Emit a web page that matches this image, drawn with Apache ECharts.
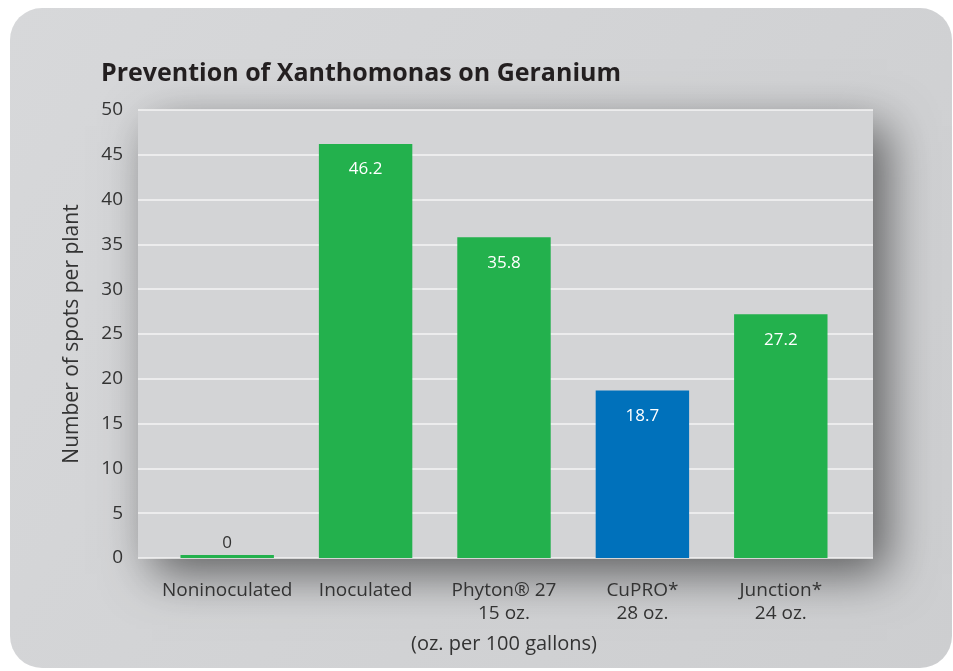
<!DOCTYPE html>
<html><head><meta charset="utf-8">
<script src="https://cdn.jsdelivr.net/npm/echarts@6/dist/echarts.min.js"></script>
<style>html,body{margin:0;padding:0;background:#fff}#c{width:953px;height:671px}</style>
</head><body><div id="c"></div>
<script>
const categories = ['Noninoculated', 'Inoculated', 'Phyton® 27\n15 oz.', 'CuPRO*\n28 oz.', 'Junction*\n24 oz.'];
const values = [0, 46.2, 35.8, 18.7, 27.2];
const barColors = ['#23b14d', '#23b14d', '#23b14d', '#0071bb', '#23b14d'];
const yTicks = [0, 5, 10, 15, 20, 25, 30, 35, 40, 45, 50];

const FONT = '"Open Sans", "Noto Sans", sans-serif';
const chart = echarts.init(document.getElementById('c'), null, {renderer: 'canvas'});
const data = values.map((v, i) => ({
  value: v,
  itemStyle: {color: barColors[i]},
  label: v === 0 ? {position: 'top', color: '#333', distance: 3} : {}
}));
const yMin = yTicks[0], yMax = yTicks[yTicks.length - 1];
chart.setOption({
  animation: false,
  backgroundColor: '#ffffff',
  graphic: [{
    type: 'rect', z: -10, silent: true,
    shape: {x: 10, y: 8, width: 942, height: 660, r: 32},
    style: {fill: new echarts.graphic.LinearGradient(0, 0, 1, 1, [
      {offset: 0, color: '#d7d8da'}, {offset: 1, color: '#cdced0'}])}
  }],
  title: {
    text: 'Prevention of Xanthomonas on Geranium',
    left: 96, top: 56,
    textStyle: {fontFamily: FONT, fontWeight: 'bold', fontSize: 25, color: '#231f20'}
  },
  grid: [{
    left: 138, right: 80, top: 110, bottom: 113,
    show: true, backgroundColor: '#d3d4d6', borderWidth: 0,
    shadowColor: 'rgba(0,0,0,0.55)', shadowBlur: 45, shadowOffsetX: 14, shadowOffsetY: 16
  }, {
    left: 158, right: 103, top: 110, bottom: 113
  }],
  xAxis: [{
    type: 'category', gridIndex: 0, data: categories, show: false
  }, {
    type: 'category', gridIndex: 1, data: categories,
    axisLine: {show: false}, axisTick: {show: false},
    axisLabel: {interval: 0, fontFamily: FONT, fontSize: 19, color: '#333', margin: 21, lineHeight: 23},
    name: '(oz. per 100 gallons)', nameLocation: 'middle', nameGap: 76,
    nameTextStyle: {fontFamily: FONT, fontSize: 20, color: '#333'}
  }],
  yAxis: [{
    type: 'value', gridIndex: 0, min: yMin, max: yMax, interval: 5,
    axisLine: {show: false}, axisTick: {show: false},
    splitLine: {show: true, lineStyle: {color: '#f4f4f4', width: 1.5}},
    axisLabel: {fontFamily: FONT, fontSize: 19, color: '#333', margin: 15},
    name: 'Number of spots per plant', nameLocation: 'middle', nameGap: 55,
    nameTextStyle: {fontFamily: FONT, fontSize: 21, color: '#333'}
  }, {
    type: 'value', gridIndex: 1, min: yMin, max: yMax, interval: 5, show: false,
    splitLine: {show: false}
  }],
  series: [{
    type: 'bar', xAxisIndex: 1, yAxisIndex: 1, data: data, barWidth: '67.5%', barMinHeight: 3,
    label: {show: true, position: 'insideTop', distance: 17, color: '#fff',
      fontFamily: FONT, fontSize: 17}
  }]
});
</script></body></html>
